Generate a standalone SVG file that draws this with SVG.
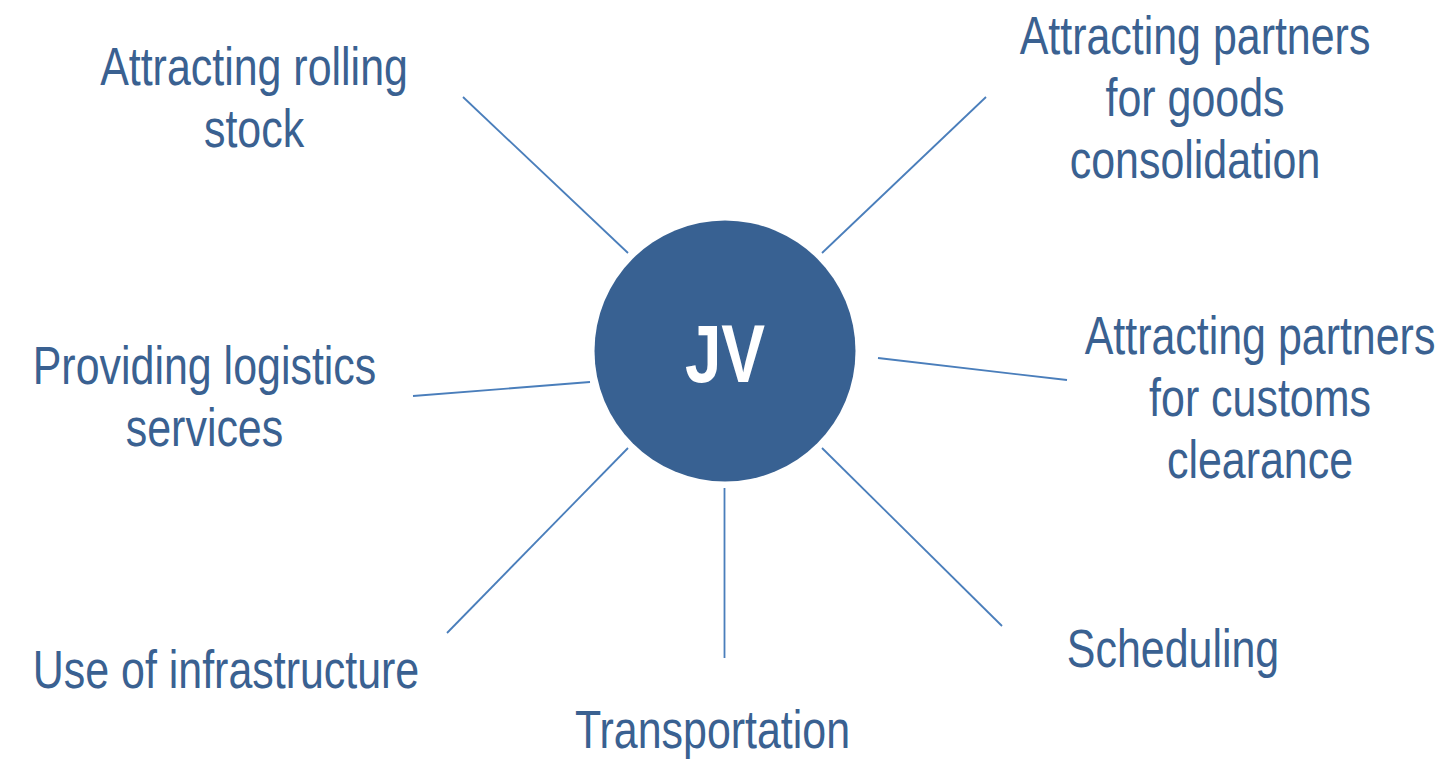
<svg xmlns="http://www.w3.org/2000/svg" width="1449" height="760" viewBox="0 0 1449 760">
<style>
.lbl{font-family:"Liberation Sans",Arial,sans-serif;font-size:53px;fill:#3a6191;text-anchor:middle}
.conn line{stroke:#4a7ebb;stroke-width:1.8;fill:none}
.hub{fill:#386192}
.hubt{font-family:"Liberation Sans",Arial,sans-serif;font-size:82px;font-weight:bold;fill:#ffffff;text-anchor:middle}
</style>
<rect width="1449" height="760" fill="#ffffff"/>
<g id="connectors" class="conn">
<line x1="463" y1="97" x2="628" y2="253"/>
<line x1="986" y1="97" x2="822" y2="253"/>
<line x1="878" y1="358" x2="1067" y2="380"/>
<line x1="413" y1="396" x2="590" y2="382"/>
<line x1="628" y1="448" x2="447" y2="633"/>
<line x1="724.5" y1="488" x2="724.5" y2="658"/>
<line x1="822" y1="448" x2="1002" y2="626"/>
</g>
<g id="jv">
<circle class="hub" cx="725" cy="351" r="130.5"/>
<text class="hubt" transform="translate(725,381.5) scale(0.8,1)">JV</text>
</g>
<g id="rolling-stock">
<text class="lbl" transform="translate(254,85) scale(0.81,1)"><tspan x="0" y="0">Attracting rolling</tspan><tspan x="0" y="62.5">stock</tspan></text>
</g>
<g id="goods-consolidation">
<text class="lbl" transform="translate(1195,53.5) scale(0.81,1)"><tspan x="0" y="0">Attracting partners</tspan><tspan x="0" y="62.5">for goods</tspan><tspan x="0" y="125">consolidation</tspan></text>
</g>
<g id="customs-clearance">
<text class="lbl" transform="translate(1260,353.5) scale(0.81,1)"><tspan x="0" y="0">Attracting partners</tspan><tspan x="0" y="62.5">for customs</tspan><tspan x="0" y="125">clearance</tspan></text>
</g>
<g id="logistics-services">
<text class="lbl" transform="translate(204.5,383.5) scale(0.81,1)"><tspan x="0" y="0">Providing logistics</tspan><tspan x="0" y="62.5">services</tspan></text>
</g>
<g id="infrastructure">
<text class="lbl" transform="translate(226,688) scale(0.81,1)">Use of infrastructure</text>
</g>
<g id="scheduling">
<text class="lbl" transform="translate(1173,667) scale(0.81,1)">Scheduling</text>
</g>
<g id="transportation">
<text class="lbl" transform="translate(712.5,748) scale(0.81,1)">Transportation</text>
</g>
</svg>
